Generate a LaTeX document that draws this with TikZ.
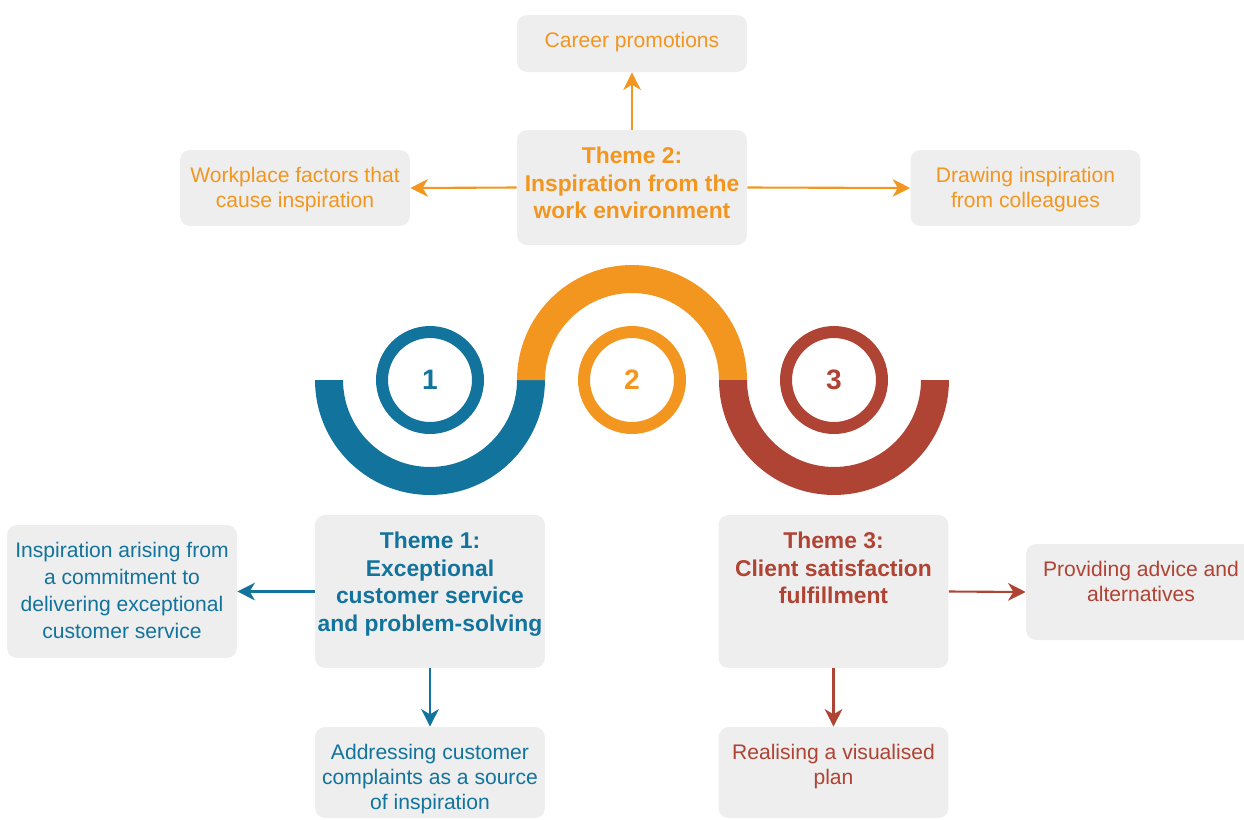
\documentclass[tikz,border=0pt]{standalone}
\usepackage{fontspec}
\setmainfont{Liberation Sans}
\usetikzlibrary{arrows.meta}
\definecolor{themeblue}{HTML}{12739D}
\definecolor{themeorange}{HTML}{F29620}
\definecolor{themered}{HTML}{AF4334}
\definecolor{boxgray}{HTML}{EEEEEE}
\tikzset{
	box/.style={fill=boxgray, rounded corners=2mm, minimum width=4.6cm, inner sep=0pt},
	boxtext/.style={anchor=north, yshift=-3.4mm, align=center, inner sep=0pt, font=\fontsize{12}{14.2}\selectfont},
	themetext/.style={boxtext, font=\fontsize{13}{15.7}\selectfont\bfseries},
	link/.style={line width=1.2pt, -{Stealth[length=10pt,width=10pt,inset=3pt]}},
	numring/.style={circle, draw, line width=2.4mm, minimum size=1.92cm, inner sep=0pt, font=\fontsize{16}{16}\selectfont\bfseries}
}

\begin{document}
\begin{tikzpicture}[x=0.02cm, y=-0.02cm]
		\useasboundingbox (0,0) rectangle (1244,819);
		% wave of half rings
		\fill [themeblue] (315,380) arc[start angle=180, end angle=360, radius=2.3cm] -- (517,380) arc[start angle=360, end angle=180, radius=1.74cm] -- cycle;
		\fill [themeorange] (517,380) arc[start angle=180, end angle=0, radius=2.3cm] -- (719,380) arc[start angle=0, end angle=180, radius=1.74cm] -- cycle;
		\fill [themered] (719,380) arc[start angle=180, end angle=360, radius=2.3cm] -- (921,380) arc[start angle=360, end angle=180, radius=1.74cm] -- cycle;
		\node [numring, draw=themeblue, text=themeblue] (num1) at (430,380) {1};
		\node [numring, draw=themeorange, text=themeorange] (num2) at (632,380) {2};
		\node [numring, draw=themered, text=themered] (num3) at (834,380) {3};

		% theme 2
		\node [box, minimum height=1.14cm] (career) at (632,43.5) {};
		\node [boxtext, text=themeorange] (careertext) at (career.north) {Career promotions};
		\node [box, minimum height=2.3cm] (theme2) at (632,187.5) {};
		\node [themetext, text=themeorange] (theme2text) at (theme2.north) {Theme 2:\\Inspiration from the\\work environment};
		\node [box, minimum height=1.52cm] (workplace) at (295,188) {};
		\node [boxtext, text=themeorange] (workplacetext) at (workplace.north) {Workplace factors that\\cause inspiration};
		\node [box, minimum height=1.52cm] (colleagues) at (1025.5,188) {};
		\node [boxtext, text=themeorange] (colleaguestext) at (colleagues.north) {Drawing inspiration\\from colleagues};

		% theme 1
		\node [box, minimum height=3.06cm] (theme1) at (430,591.5) {};
		\node [themetext, text=themeblue] (theme1text) at (theme1.north) {Theme 1:\\Exceptional\\customer service\\and problem-solving};
		\node [box, minimum height=2.66cm] (commitment) at (122,591.5) {};
		\node [boxtext, text=themeblue, font=\fontsize{12}{15.5}\selectfont] (commitmenttext) at (commitment.north) {Inspiration arising from\\a commitment to\\delivering exceptional\\customer service};
		\node [box, minimum height=1.82cm] (complaints) at (430,772.5) {};
		\node [boxtext, text=themeblue] (complaintstext) at (complaints.north) {Addressing customer\\complaints as a source\\of inspiration};

		% theme 3
		\node [box, minimum height=3.06cm] (theme3) at (833.5,591.5) {};
		\node [themetext, text=themered] (theme3text) at (theme3.north) {Theme 3:\\Client satisfaction\\fulfillment};
		\node [box, minimum height=1.92cm] (advice) at (1141,592) {};
		\node [boxtext, text=themered] (advicetext) at (advice.north) {Providing advice and\\alternatives};
		\node [box, minimum height=1.82cm] (plan) at (833.5,772.5) {};
		\node [boxtext, text=themered] (plantext) at (plan.north) {Realising a visualised\\plan};

		\draw [link, themeorange] (theme2.north) -- (career.south);
		\draw [link, themeorange] (theme2.west) -- (workplace.east);
		\draw [link, themeorange] (theme2.east) -- (colleagues.west);
		\draw [link, themeblue] (theme1.west) -- (commitment.east);
		\draw [link, themeblue] (theme1.south) -- (complaints.north);
		\draw [link, themered] (theme3.east) -- (advice.west);
		\draw [link, themered] (theme3.south) -- (plan.north);
	\end{tikzpicture}
\end{document}
